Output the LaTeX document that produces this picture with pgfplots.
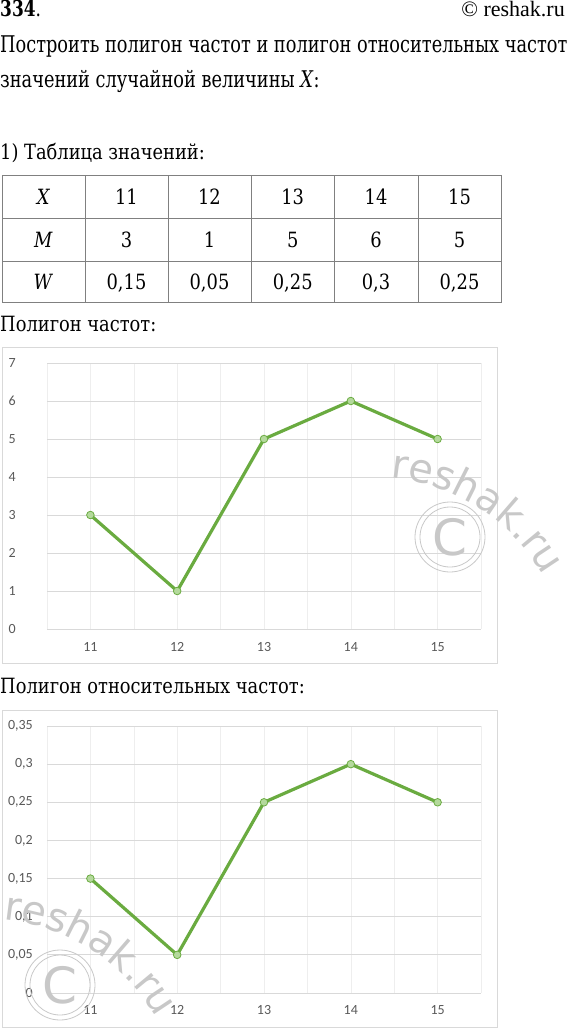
\documentclass[border=0pt]{standalone}
\usepackage{fontspec}
\usepackage{pgfplots}
\pgfplotsset{compat=1.18}
\usetikzlibrary{decorations.text}
\setmainfont[FakeStretch=0.85]{DejaVu Serif}
\newfontfamily\Afam[FakeStretch=0.772]{DejaVu Serif}
\newfontfamily\tnr{Liberation Serif}
\newfontfamily\carl{Carlito}
\newfontfamily\wmf{DejaVu Sans}
\definecolor{grn}{HTML}{6AAB40}
\definecolor{grnfill}{HTML}{B4D99C}
\definecolor{tickc}{HTML}{595959}
\definecolor{gridc}{HTML}{D9D9D9}
\definecolor{vgridc}{HTML}{EEEEEE}
\definecolor{framec}{HTML}{D9D9D9}
\definecolor{tabc}{HTML}{808080}
\definecolor{wmc}{HTML}{C8C8C8}
\newcommand\A{\Afam\fontsize{23}{23}\selectfont}
\newcommand\B{\fontsize{21}{21}\selectfont}

\pgfplotsset{
 poly/.style={
  scale only axis, width=434pt, xmin=10.5, xmax=15.5, ymin=0,
  xtick={11,12,13,14,15}, minor xtick={10.5,11.5,12.5,13.5,14.5,15.5},
  xmajorgrids, xminorgrids, ymajorgrids,
  major x grid style={vgridc, line width=0.6pt},
  minor x grid style={vgridc, line width=0.6pt},
  major y grid style={gridc, line width=1pt},
  axis line style={draw=none},
  major tick style={draw=none}, minor tick style={draw=none},
  /pgf/number format/assume math mode=true,
  tick label style={font=\carl\fontsize{14}{14}\selectfont, text=tickc, inner sep=0pt},
  xticklabel style={anchor=base},
  clip=false,
 },
 series/.style={grn, line width=3.2pt, line join=round, mark=*, mark size=3.8pt,
   mark options={fill=grnfill, draw=grn, line width=0.8pt}},
}

\begin{document}
\begin{tikzpicture}[x=1pt,y=1pt]
\path[use as bounding box] (0,0) rectangle (567,-1028);

% header
\node[anchor=base west, inner sep=0, font=\Afam\fontsize{22}{22}\selectfont] at (0,-16) {\textbf{334}.};
\node[anchor=base east, inner sep=0, font=\tnr\fontsize{22}{22}\selectfont] at (565,-16) {© reshak.ru};
\node[anchor=base west, inner sep=0, font=\A] at (0,-52.7) {Построить полигон частот и полигон относительных частот};
\node[anchor=base west, inner sep=0, font=\A] at (0,-87) {значений случайной величины \textit{X}:};
\node[anchor=base west, inner sep=0, font=\B] at (0,-159) {1) Таблица значений:};

% table
\draw[tabc, line width=0.9pt] (2,-175.7) rectangle (501,-302.7);
\draw[tabc, line width=0.9pt] (2,-218) -- (501,-218) (2,-261) -- (501,-261);
\foreach \xx in {85,168,251,334.5,418} \draw[tabc, line width=0.9pt] (\xx,-175.7) -- (\xx,-302.7);
\foreach \xx/\t in {43.5/\textit{X},126.5/11,209.5/12,292.75/13,376/14,459.5/15}
  \node[anchor=base, inner sep=0, font=\B] at (\xx,-204) {\t};
\foreach \xx/\t in {43.5/\textit{M},126.5/3,209.5/1,292.75/5,376/6,459.5/5}
  \node[anchor=base, inner sep=0, font=\B] at (\xx,-247) {\t};
\foreach \xx/\t in {43.5/\textit{W},126.5/{0,15},209.5/{0,05},292.75/{0,25},376/{0,3},459.5/{0,25}}
  \node[anchor=base, inner sep=0, font=\B] at (\xx,-289) {\t};

\node[anchor=base west, inner sep=0, font=\B] at (0,-331) {Полигон частот:};
\node[anchor=base west, inner sep=0, font=\B] at (0,-693) {Полигон относительных частот:};

% chart 1
\draw[framec, line width=0.8pt] (2,-347) rectangle (497,-663);
\begin{axis}[poly, at={(47pt,-629pt)}, anchor=south west, height=266pt, ymax=7,
  ytick={0,1,2,3,4,5,6,7}, yticklabel style={anchor=east, xshift=-31pt},
  xticklabel style={yshift=-22pt}]
\addplot[series] coordinates {(11,3) (12,1) (13,5) (14,6) (15,5)};
\end{axis}

% chart 2
\draw[framec, line width=0.8pt] (2,-710) rectangle (497,-1027);
\begin{axis}[poly, at={(47pt,-993pt)}, anchor=south west, height=267pt, ymax=0.35,
  ytick={0,0.05,0.1,0.15,0.2,0.25,0.3,0.35},
  yticklabels={0,{0,05},{0,1},{0,15},{0,2},{0,25},{0,3},{0,35}},
  yticklabel style={anchor=east, xshift=-14pt},
  xticklabel style={yshift=-21pt}]
\addplot[series] coordinates {(11,0.15) (12,0.05) (13,0.25) (14,0.3) (15,0.25)};
\end{axis}

% watermarks
\path[decorate, decoration={text along path, text={|\wmf\fontsize{40}{40}\selectfont\color{wmc}|reshak.ru}}]
  (390,-478) arc[start angle=85, end angle=30, radius=197];
\draw[wmc, line width=0.8pt] (450,-537) circle[radius=35] (450,-537) circle[radius=30];
\node[text=wmc, font=\wmf\fontsize{50}{50}\selectfont] at (450,-537) {C};

\path[decorate, decoration={text along path, text={|\wmf\fontsize{40}{40}\selectfont\color{wmc}|reshak.ru}}]
  (3,-920) arc[start angle=85, end angle=30, radius=197];
\draw[wmc, line width=0.8pt] (60,-985) circle[radius=35] (60,-985) circle[radius=30];
\node[text=wmc, font=\wmf\fontsize{50}{50}\selectfont] at (60,-985) {C};
\end{tikzpicture}
\end{document}
